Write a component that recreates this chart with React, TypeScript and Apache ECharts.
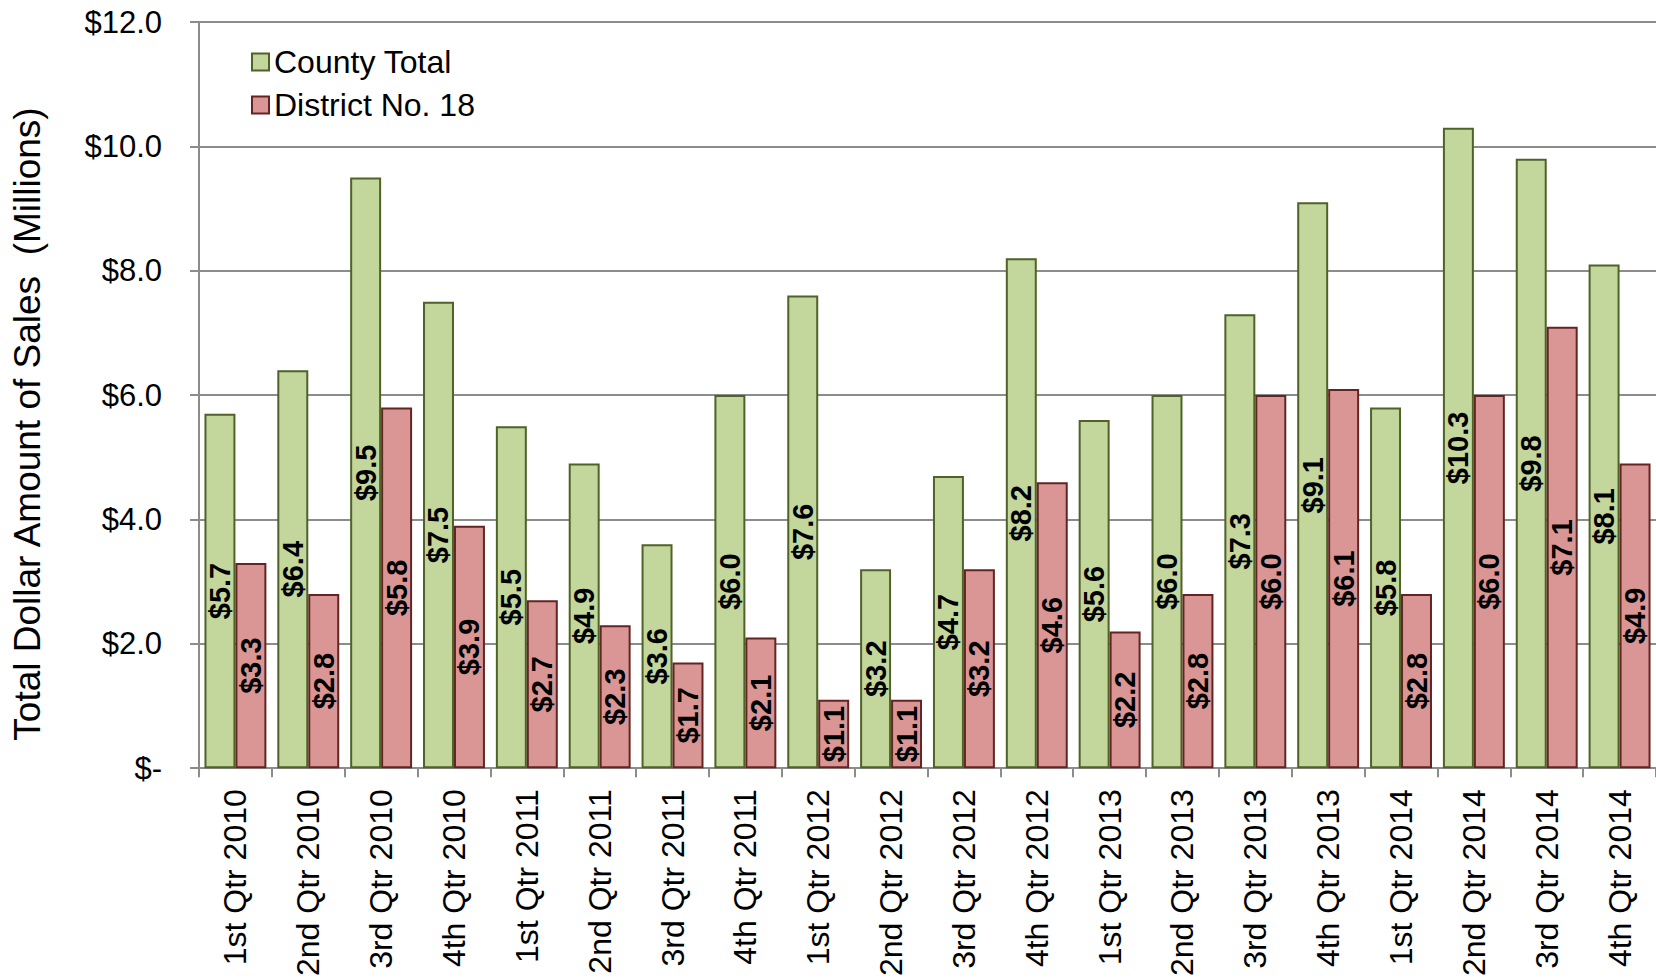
import React, { useEffect, useRef } from "react";
import * as echarts from "echarts";

const categories = [
  "1st Qtr 2010", "2nd Qtr 2010", "3rd Qtr 2010", "4th Qtr 2010",
  "1st Qtr 2011", "2nd Qtr 2011", "3rd Qtr 2011", "4th Qtr 2011",
  "1st Qtr 2012", "2nd Qtr 2012", "3rd Qtr 2012", "4th Qtr 2012",
  "1st Qtr 2013", "2nd Qtr 2013", "3rd Qtr 2013", "4th Qtr 2013",
  "1st Qtr 2014", "2nd Qtr 2014", "3rd Qtr 2014", "4th Qtr 2014",
];

const countyTotal = [5.7, 6.4, 9.5, 7.5, 5.5, 4.9, 3.6, 6.0, 7.6, 3.2, 4.7, 8.2, 5.6, 6.0, 7.3, 9.1, 5.8, 10.3, 9.8, 8.1];
const district18 = [3.3, 2.8, 5.8, 3.9, 2.7, 2.3, 1.7, 2.1, 1.1, 1.1, 3.2, 4.6, 2.2, 2.8, 6.0, 6.1, 2.8, 6.0, 7.1, 4.9];

const seriesNames = ["County Total", "District No. 18"];
const yTitle = "Total Dollar Amount of Sales  (Millions)";

const FONT = "'Liberation Sans', Arial, Helvetica, sans-serif";
const GRAY = "#8c8c8c";

export default function App() {
  const ref = useRef<HTMLDivElement>(null);

  useEffect(() => {
    if (!ref.current) return;
    const chart = echarts.init(ref.current, null, { renderer: "svg" });
    const barLabel = {
      show: true,
      position: "inside",
      rotate: 90,
      formatter: (p: any) => "$" + Number(p.value).toFixed(1),
      fontFamily: FONT,
      fontWeight: "bold",
      fontSize: 29,
      color: "#000",
    };
    chart.setOption({
      animation: false,
      backgroundColor: "#ffffff",
      textStyle: { fontFamily: FONT },
      grid: { left: 199, right: 0, top: 22, bottom: 207, containLabel: false },
      legend: {
        orient: "vertical",
        left: 246,
        top: 40,
        itemWidth: 17,
        itemHeight: 17,
        itemGap: 9,
        icon: "rect",
        textStyle: { fontFamily: FONT, fontSize: 32, color: "#000", lineHeight: 34 },
        data: seriesNames,
      },
      xAxis: {
        type: "category",
        data: categories,
        boundaryGap: true,
        axisLine: { show: true, lineStyle: { color: GRAY, width: 2 } },
        axisTick: { show: true, length: 9, lineStyle: { color: GRAY, width: 2 } },
        axisLabel: {
          rotate: 90,
          margin: 21,
          fontFamily: FONT,
          fontSize: 32,
          color: "#000",
          interval: 0,
        },
        splitLine: { show: false },
      },
      yAxis: {
        type: "value",
        min: 0,
        max: 12,
        interval: 2,
        axisLine: { show: true, lineStyle: { color: GRAY, width: 2 } },
        axisTick: { show: true, length: 9, lineStyle: { color: GRAY, width: 2 } },
        axisLabel: {
          margin: 37,
          fontFamily: FONT,
          fontSize: 31,
          color: "#000",
          formatter: (v: number) => (v === 0 ? "$-" : "$" + v.toFixed(1)),
        },
        splitLine: { show: true, lineStyle: { color: GRAY, width: 2 } },
      },
      graphic: [
        {
          type: "text",
          x: 27,
          y: 424,
          rotation: Math.PI / 2,
          style: {
            text: yTitle,
            fontFamily: FONT,
            fontSize: 37,
            fill: "#000",
            align: "center",
            verticalAlign: "middle",
          },
        },
      ],
      series: [
        {
          name: seriesNames[0],
          type: "bar",
          data: countyTotal,
          barGap: "0%",
          barCategoryGap: "15%",
          itemStyle: { color: "#C3D69B", borderColor: "#4F6228", borderWidth: 2 },
          label: barLabel,
        },
        {
          name: seriesNames[1],
          type: "bar",
          data: district18,
          barGap: "0%",
          barCategoryGap: "15%",
          itemStyle: { color: "#D99694", borderColor: "#632523", borderWidth: 2 },
          label: barLabel,
        },
      ],
    });
    return () => chart.dispose();
  }, []);

  return (
    <div
      ref={ref}
      style={{ position: "absolute", left: 0, top: 0, width: 1656, height: 979, background: "#fff" }}
    />
  );
}
